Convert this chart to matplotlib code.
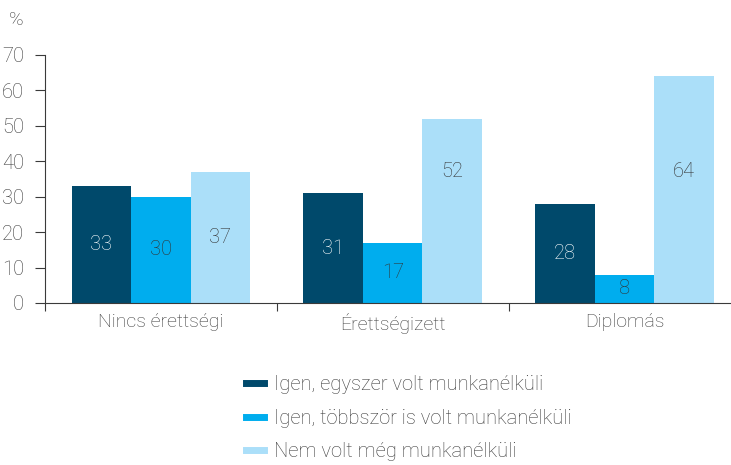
import matplotlib.pyplot as plt
import numpy as np
from matplotlib.lines import Line2D

plt.rcParams['font.family'] = ['Roboto', 'DejaVu Sans']

categories = ['Nincs érettségi', 'Érettségizett', 'Diplomás']
series_names = ['Igen, egyszer volt munkanélküli',
                'Igen, többször is volt munkanélküli',
                'Nem volt még munkanélküli']
egyszer = [33, 31, 28]
tobbszor = [30, 17, 8]
nem_volt = [37, 52, 64]

colors = ['#00496b', '#00adee', '#abdff9']
text_colors = ['white', '#333333', '#333333']
grey = '#3a3a3a'

fig = plt.figure(figsize=(7.31, 4.65), dpi=100)
ax = fig.add_axes([45 / 731, 1 - 303 / 465, 700 / 731, 248 / 465])

x = np.arange(len(categories))
w = 0.257
for i, vals in enumerate([egyszer, tobbszor, nem_volt]):
    pos = x + (i - 1) * w
    ax.bar(pos, vals, width=w, color=colors[i], label=series_names[i])
    for p, v in zip(pos, vals):
        ly = v / 2 if v < 50 else 37
        ax.text(p, ly, str(v), ha='center', va='center', fontsize=14.5,
                color=text_colors[i], fontweight='light')

ax.set_xlim(-0.5, 2.52)
ax.set_ylim(0, 70)
ax.set_yticks(range(0, 71, 10))
ax.set_xticks([-0.5, 0.5, 1.5], minor=False)
ax.set_xticklabels([])
ax.set_xticks(x, minor=True)
ax.set_xticklabels(categories, minor=True)
ax.tick_params(axis='x', which='minor', length=0, pad=7, labelsize=14, colors=grey)
ax.tick_params(axis='x', which='major', length=6, direction='out', color=grey)
ax.tick_params(axis='y', length=7, direction='out', color=grey, labelsize=14.5,
               labelcolor=grey, pad=8)
for lab in ax.get_yticklabels() + ax.get_xticklabels(minor=True):
    lab.set_fontweight('light')
for s in ['top', 'right']:
    ax.spines[s].set_visible(False)
ax.spines['left'].set_color(grey)
ax.spines['bottom'].set_color(grey)

fig.text(9 / 731, 1 - 20 / 465, '%', fontsize=14, color=grey, va='center',
         fontweight='light')

handles = [Line2D([0], [0], color=c, lw=5) for c in colors]
leg = fig.legend(handles, series_names, loc='upper left',
                 bbox_to_anchor=(228 / 731, 1 - 357 / 465), frameon=False,
                 handlelength=0.9, handletextpad=0.5,
                 labelspacing=0.72, prop={'weight': 'light', 'size': 14.5})
for t in leg.get_texts():
    t.set_color(grey)

fig.savefig('out.png', dpi=100)
